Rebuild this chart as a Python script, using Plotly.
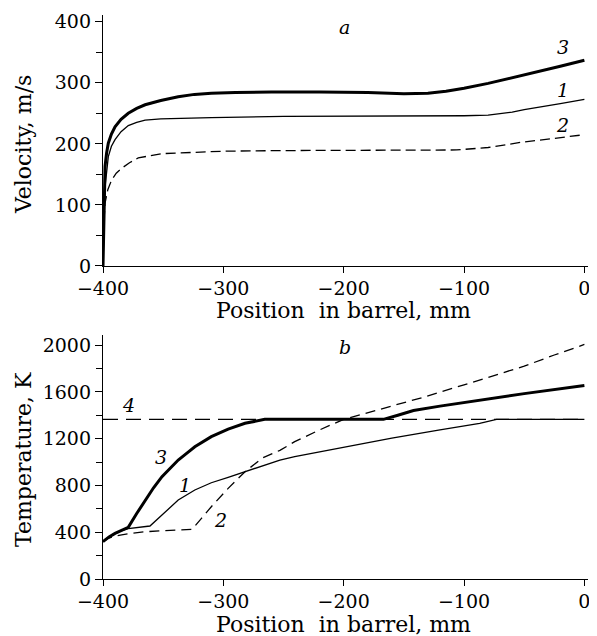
import plotly.graph_objects as go

# панель a: скорость, м/с
pos_v3 = [-400, -399.5, -399, -398.3, -397, -395.6, -393, -390, -385, -379, -372, -365, -352, -337.5, -324, -310, -290, -260, -220, -180, -150, -130, -115, -100, -80, -60, -40, -20, 0]
vel_3 = [0, 75, 120, 163, 185, 201, 216, 228, 240, 250, 258, 264, 271, 277, 281, 283, 284, 285, 285, 284, 282, 283, 286, 291, 299, 308, 317, 327, 337]

pos_v1 = [-400, -399.5, -399, -398, -397, -395.6, -393, -390, -385, -379, -372, -365, -352, -337.5, -310, -250, -200, -150, -100, -80, -70, -60, -50, -40, -20, 0]
vel_1 = [0, 60, 100, 135, 158, 179, 196, 207, 220, 230, 235, 239, 241, 242, 243, 245, 245, 246, 246, 247, 249, 252, 256, 259, 266, 273]

pos_v2 = [-400, -399.5, -399, -398.3, -396, -392.8, -389, -384.5, -378, -370.7, -361, -351, -337, -323.7, -300, -250, -200, -150, -106, -80, -51, -25, 0]
vel_2 = [0, 50, 80, 103, 125, 141, 152, 160, 169, 177, 181, 184, 185, 186, 188, 189, 189, 189, 190, 194, 203, 209, 215]

# панель b: температура, K
pos_t3 = [-400, -395, -390, -385, -379, -372, -365, -358, -351, -344, -337.5, -330, -323.7, -310, -296, -282, -272, -265.6, -220, -167, -155, -142, -120, -106, -87, -50, 0]
temp_3 = [319, 360, 390, 415, 442, 560, 675, 780, 875, 950, 1017, 1078, 1131, 1217, 1282, 1331, 1355, 1365, 1365, 1365, 1400, 1440, 1478, 1500, 1530, 1585, 1655]

pos_t1 = [-400, -395, -390, -385, -379, -370, -361, -351, -337.5, -323.7, -310, -296, -282, -268, -253, -240.7, -200, -160, -120, -87, -73, 0]
temp_1 = [319, 360, 390, 412, 430, 442, 453, 547, 675, 761, 823, 869, 917, 960, 1017, 1046, 1125, 1205, 1275, 1331, 1365, 1365]

pos_t2 = [-400, -395, -390, -384.5, -375, -365, -350, -335, -326, -318, -310, -296, -282, -268, -253, -240.7, -220, -200, -170, -134, -100, -79, -50, -25, 0]
temp_2 = [319, 350, 365, 378, 392, 404, 413, 420, 425, 520, 618, 775, 917, 1032, 1100, 1174, 1275, 1365, 1450, 1553, 1660, 1725, 1820, 1915, 2005]

pos_t4 = [-400, 0]
temp_4 = [1365, 1365]

x_ticks = [-400, -300, -200, -100, 0]
x_ticklabels = ["−400", "−300", "−200", "−100", "0"]

FONT = "DejaVu Serif"

fig = go.Figure()

fig.add_trace(go.Scatter(x=pos_v2, y=vel_2, mode="lines", line=dict(color="black", width=1.3, dash="10px,5px"),
                         xaxis="x", yaxis="y"))
fig.add_trace(go.Scatter(x=pos_v1, y=vel_1, mode="lines", line=dict(color="black", width=1.3),
                         xaxis="x", yaxis="y"))
fig.add_trace(go.Scatter(x=pos_v3, y=vel_3, mode="lines", line=dict(color="black", width=3),
                         xaxis="x", yaxis="y"))

fig.add_trace(go.Scatter(x=pos_t4, y=temp_4, mode="lines", line=dict(color="black", width=1.4, dash="15px,8px"),
                         xaxis="x2", yaxis="y2"))
fig.add_trace(go.Scatter(x=pos_t2, y=temp_2, mode="lines", line=dict(color="black", width=1.3, dash="10px,6px"),
                         xaxis="x2", yaxis="y2"))
fig.add_trace(go.Scatter(x=pos_t1, y=temp_1, mode="lines", line=dict(color="black", width=1.3),
                         xaxis="x2", yaxis="y2"))
fig.add_trace(go.Scatter(x=pos_t3, y=temp_3, mode="lines", line=dict(color="black", width=3),
                         xaxis="x2", yaxis="y2"))

xax = dict(range=[-400, 3], tickvals=x_ticks, ticktext=x_ticklabels, showgrid=False, zeroline=False,
           showline=True, linecolor="black", linewidth=1.3, ticks="outside", ticklen=6, tickwidth=1.3,
           tickcolor="black", automargin=False, ticklabelstandoff=-1,
           tickfont=dict(family=FONT, size=19, color="black"))

yax = dict(showgrid=False, zeroline=False, showline=True, linecolor="black", linewidth=1.3, ticks="outside",
           ticklen=7, tickwidth=1.3, tickcolor="black", automargin=False,
           tickfont=dict(family=FONT, size=19, color="black"))

fig.update_layout(
    width=597, height=636,
    plot_bgcolor="white", paper_bgcolor="white",
    showlegend=False,
    margin=dict(l=95, r=17, t=7, b=65),
    xaxis=dict(xax, anchor="y"),
    xaxis2=dict(xax, anchor="y2"),
    yaxis=dict(yax, domain=[0.555, 1.0], range=[0, 411], tickvals=[0, 100, 200, 300, 400],
               minor=dict(tickvals=[50, 150, 250, 350], ticks="outside", ticklen=6, tickcolor="black", tickwidth=1.3)),
    yaxis2=dict(yax, domain=[0, 0.4326], range=[0, 2086], tickvals=[0, 400, 800, 1200, 1600, 2000],
                minor=dict(tickvals=[200, 600, 1000, 1400, 1800], ticks="outside", ticklen=6, tickcolor="black", tickwidth=1.3)),
)

# подписи осей
title_font = dict(family=FONT, size=22, color="black")
fig.add_annotation(text="Velocity, m/s", xref="paper", yref="y", x=0, y=198, xshift=-80, textangle=-90,
                   showarrow=False, font=title_font, xanchor="center", yanchor="middle")
fig.add_annotation(text="Temperature, K", xref="paper", yref="y2", x=0, y=1017, xshift=-80, textangle=-90,
                   showarrow=False, font=title_font, xanchor="center", yanchor="middle")
fig.add_annotation(text="Position  in barrel, mm", xref="x", yref="y domain", x=-200, y=0, yshift=-45,
                   showarrow=False, font=title_font, xanchor="center", yanchor="middle")
fig.add_annotation(text="Position  in barrel, mm", xref="x2", yref="y2 domain", x=-200, y=0, yshift=-45,
                   showarrow=False, font=title_font, xanchor="center", yanchor="middle")

# метки кривых
lab_font = dict(family=FONT, size=19, color="black")
top_labels = [("a", -199, 392), ("3", -18, 359), ("1", -18, 289), ("2", -18, 231)]
for t, xx, yy in top_labels:
    fig.add_annotation(text="<i>" + t + "</i>", x=xx, y=yy, xref="x", yref="y", showarrow=False, font=lab_font)
bot_labels = [("b", -199, 1984), ("4", -379, 1488), ("3", -352, 1043), ("1", -332, 804), ("2", -302, 504)]
for t, xx, yy in bot_labels:
    fig.add_annotation(text="<i>" + t + "</i>", x=xx, y=yy, xref="x2", yref="y2", showarrow=False, font=lab_font)

fig.write_html("out.html")
